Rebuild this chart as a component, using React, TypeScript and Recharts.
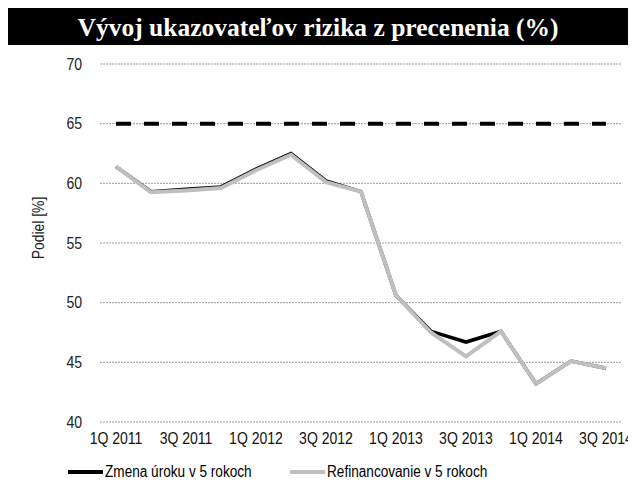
import React from 'react';
import { LineChart, Line, XAxis, YAxis, CartesianGrid, Legend } from 'recharts';

const quarters = ['1Q 2011', '2Q 2011', '3Q 2011', '4Q 2011', '1Q 2012', '2Q 2012', '3Q 2012', '4Q 2012', '1Q 2013', '2Q 2013', '3Q 2013', '4Q 2013', '1Q 2014', '2Q 2014', '3Q 2014'];
const zmenaUroku = [61.4, 59.3, 59.5, 59.7, 61.2, 62.5, 60.2, 59.3, 50.6, 47.6, 46.7, 47.6, 43.2, 45.1, 44.5];
const refinancovanie = [61.4, 59.25, 59.4, 59.6, 61.1, 62.4, 60.1, 59.3, 50.6, 47.5, 45.5, 47.6, 43.2, 45.1, 44.5];
const limit = [65, 65, 65, 65, 65, 65, 65, 65, 65, 65, 65, 65, 65, 65, 65];
const yTicks = [40, 45, 50, 55, 60, 65, 70];

const data = quarters.map((q, i) => ({
  q,
  zmena: zmenaUroku[i],
  refin: refinancovanie[i],
  limit: limit[i],
}));

const FONT = "'Liberation Sans', Arial, sans-serif";
const SX = 0.85;

const XTick = (props: any) => {
  const { x, y, payload } = props;
  return (
    <text transform={`translate(${x},${y}) scale(${SX},1)`} x={0} y={0} dy={13.5} textAnchor="middle" fontFamily={FONT} fontSize={16.5} fill="#111">
      {payload.value}
    </text>
  );
};

const YTick = (props: any) => {
  const { x, y, payload } = props;
  return (
    <text transform={`translate(${x},${y}) scale(${SX},1)`} x={0} y={0} dy={5.8} textAnchor="end" fontFamily={FONT} fontSize={16.5} fill="#222">
      {payload.value}
    </text>
  );
};

const NarrowText = ({ children }: { children: React.ReactNode }) => (
  <span style={{ display: 'inline-block', transform: `scaleX(${SX})`, transformOrigin: 'left center', whiteSpace: 'nowrap' }}>{children}</span>
);

const LegendContent = () => (
  <div style={{ height: 38, position: 'relative', fontFamily: FONT, fontSize: 16, color: '#000' }}>
    <div style={{ position: 'absolute', left: 60, top: 20, display: 'flex', alignItems: 'center', height: 20 }}>
      <span style={{ display: 'inline-block', width: 35, height: 4, background: '#000', marginRight: 2 }} />
      <NarrowText>Zmena úroku v 5 rokoch</NarrowText>
    </div>
    <div style={{ position: 'absolute', left: 282, top: 20, display: 'flex', alignItems: 'center', height: 20 }}>
      <span style={{ display: 'inline-block', width: 35, height: 4, background: '#bfbfbf', marginRight: 2 }} />
      <NarrowText>Refinancovanie v 5 rokoch</NarrowText>
    </div>
  </div>
);

const YLabel = (props: any) => {
  const vb = props.viewBox || {};
  const cx = 30;
  const cy = vb.y + vb.height / 2 - 15;
  return (
    <text transform={`translate(${cx},${cy}) rotate(-90) scale(0.87,1)`} x={0} y={0} dy={5.5} textAnchor="middle" fontFamily={FONT} fontSize={16} fill="#222">
      Podiel [%]
    </text>
  );
};

export default function App() {
  return (
    <div style={{ width: 628 }}>
      <div style={{ width: 620, height: 37, background: '#000', color: '#fff', fontFamily: "'Liberation Serif', 'Times New Roman', serif", fontWeight: 'bold', fontSize: 25.5, textAlign: 'center', lineHeight: '39px' }}>
        Vývoj ukazovateľov rizika z precenenia (%)
      </div>
      <LineChart width={628} height={441} data={data} margin={{ top: 19, right: 14, left: 20, bottom: 6 }}>
        <CartesianGrid vertical={false} stroke="#9a9a9a" strokeDasharray="2 1" />
        <XAxis dataKey="q" interval={1} tickLine={false} axisLine={false} height={20} padding={{ left: 16, right: 16 }} tick={<XTick />} tickMargin={2} />
        <YAxis domain={[40, 70]} ticks={yTicks} tickLine={false} axisLine={false} width={72} tickMargin={12} tick={<YTick />} label={<YLabel />} />
        <Legend verticalAlign="bottom" content={<LegendContent />} wrapperStyle={{ left: 0, width: 620 }} />
        <Line dataKey="limit" stroke="#000" strokeWidth={4} strokeDasharray="15 13" dot={false} isAnimationActive={false} legendType="none" />
        <Line dataKey="zmena" stroke="#000" strokeWidth={3.5} dot={false} isAnimationActive={false} />
        <Line dataKey="refin" stroke="#bfbfbf" strokeWidth={4} dot={false} isAnimationActive={false} />
      </LineChart>
    </div>
  );
}
